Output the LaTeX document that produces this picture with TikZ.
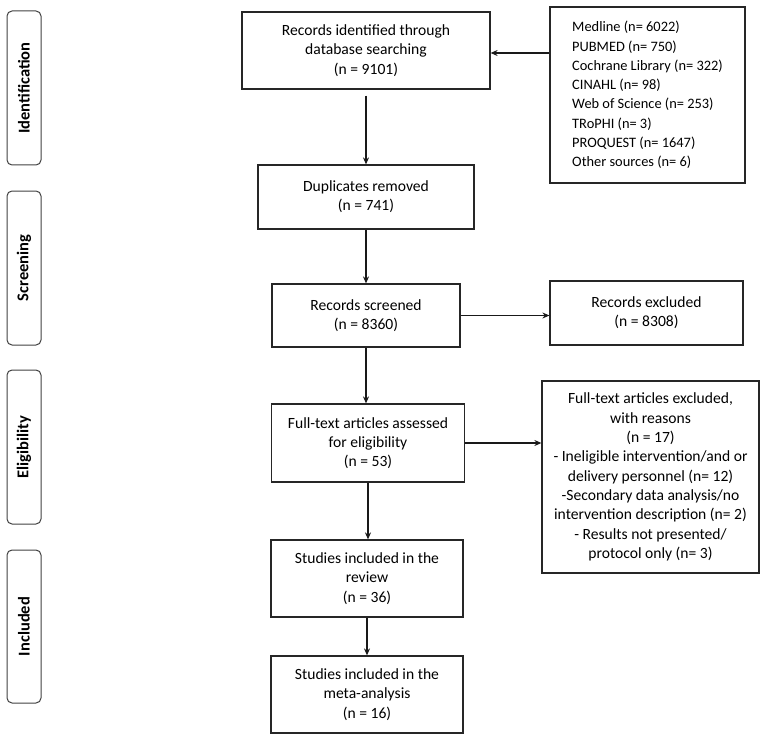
\documentclass[tikz,border=0pt]{standalone}
\usepackage{fontspec}
\setmainfont{Carlito}
\usetikzlibrary{arrows.meta,calc}
\begin{document}
\begin{tikzpicture}[x=1pt,y=-1pt,
  box/.style={draw=black!85, line width=1.2pt, align=center, inner sep=2pt,
    font=\fontsize{15.6}{19.3}\selectfont},
  side/.style={draw=black!75, line width=1pt, rounded corners=5pt, minimum height=34pt,
    font=\bfseries\fontsize{16.5}{18}\selectfont},
  arr/.style={-{Stealth[length=7pt,width=6pt]}, line width=1.2pt, draw=black!90}]
\useasboundingbox (0,0) rectangle (766,741);
% side labels
\node[side, minimum width=154pt, rotate=90] (sid) at (24,88) {Identification};
\node[side, minimum width=154pt, rotate=90] (sscr) at (24,268) {Screening};
\node[side, minimum width=154pt, rotate=90] (selg) at (24,447) {Eligibility};
\node[side, minimum width=153pt, rotate=90] (sinc) at (24,626.5) {Included};
% main boxes
\node[box, minimum width=248pt, minimum height=77pt] (ident) at (366,50.5) {Records identified through\\database searching\\(n = 9101)};
\node[box, minimum width=216pt, minimum height=64pt] (dup) at (366,197) {Duplicates removed\\(n = 741)};
\node[box, minimum width=188pt, minimum height=63pt] (scr) at (366,315.5) {Records screened\\(n = 8360)};
\node[box, minimum width=193pt, minimum height=78pt] (full) at (368,443) {Full-text articles assessed\\for eligibility\\(n = 53)};
\node[box, minimum width=192pt, minimum height=77pt] (rev) at (367,578.5) {Studies included in the\\review\\(n = 36)};
\node[box, minimum width=192pt, minimum height=77pt] (meta) at (367,694.5) {Studies included in the\\meta-analysis\\(n = 16)};
% right boxes
\node[box, align=left, minimum height=176pt, minimum width=195pt,
  font=\fontsize{14.4}{19.3}\selectfont] (src) at (647.5,95) {Medline (n= 6022)\\PUBMED (n= 750)\\Cochrane Library (n= 322)\\CINAHL (n= 98)\\Web of Science (n= 253)\\TRoPHI (n= 3)\\PROQUEST (n= 1647)\\Other sources (n= 6)};
\node[box, minimum width=193pt, minimum height=64pt] (excl) at (646.5,313) {Records excluded\\(n = 8308)};
\node[box, minimum width=217pt, minimum height=192pt] (ftex) at (650.5,477) {Full-text articles excluded,\\with reasons\\(n = 17)\\- Ineligible intervention/and or\\delivery personnel (n= 12)\\-Secondary data analysis/no\\intervention description (n= 2)\\- Results not presented/\\protocol only (n= 3)};
% connectors
\draw[arr] (src.west |- 0,53) -- (ident.east |- 0,53);
\draw[arr, shorten <=6pt] (ident.south) -- (dup.north);
\draw[arr] (dup.south) -- (scr.north);
\draw[arr] (scr.south) -- (scr.south |- full.north);
\draw[arr] (scr.east) -- (scr.east -| excl.west);
\draw[arr] (full.east) -- (full.east -| ftex.west);
\draw[arr] (full.south) -- (full.south |- rev.north);
\draw[arr] (rev.south) -- (meta.north);
\end{tikzpicture}
\end{document}
